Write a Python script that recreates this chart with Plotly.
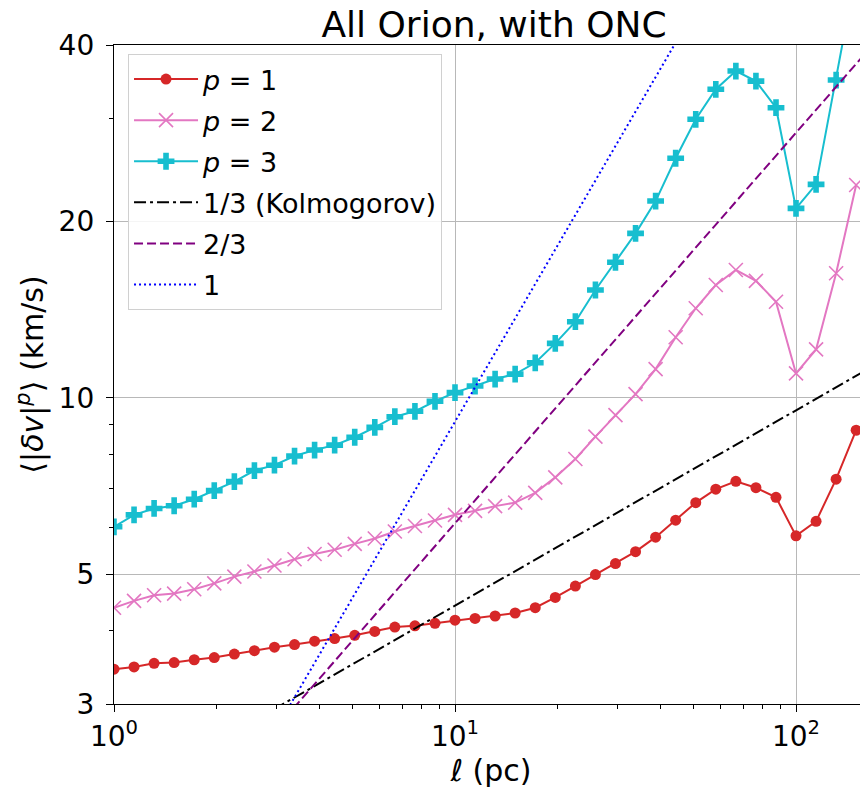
import plotly.graph_objects as go
import math

# ---- data ----
ell_pc = [1.000, 1.145, 1.311, 1.501, 1.719, 1.968, 2.254, 2.581, 2.955, 3.384,
          3.875, 4.437, 5.081, 5.818, 6.662, 7.629, 8.736, 10.00, 11.45, 13.11,
          15.01, 17.19, 19.68, 22.54, 25.81, 29.55, 33.84, 38.75, 44.37, 50.81,
          58.18, 66.62, 76.29, 87.36, 100.0, 114.5, 131.1, 150.1]

p1 = [3.44, 3.47, 3.52, 3.53, 3.57, 3.60, 3.65, 3.70, 3.75, 3.79,
      3.84, 3.88, 3.93, 3.99, 4.06, 4.08, 4.12, 4.17, 4.20, 4.24,
      4.29, 4.38, 4.56, 4.77, 4.99, 5.21, 5.46, 5.78, 6.18, 6.62,
      6.98, 7.20, 7.02, 6.76, 5.81, 6.15, 7.26, 8.80]

p2 = [4.38, 4.50, 4.60, 4.63, 4.71, 4.82, 4.95, 5.05, 5.17, 5.30,
      5.41, 5.50, 5.63, 5.75, 5.91, 6.04, 6.17, 6.31, 6.41, 6.53,
      6.62, 6.88, 7.31, 7.86, 8.58, 9.34, 10.14, 11.19, 12.68, 14.21,
      15.57, 16.52, 15.83, 14.58, 11.00, 12.09, 16.31, 23.07]

p3 = [6.02, 6.31, 6.47, 6.54, 6.71, 6.94, 7.19, 7.51, 7.67, 7.95,
      8.14, 8.30, 8.56, 8.90, 9.28, 9.48, 9.86, 10.20, 10.47, 10.76,
      10.97, 11.47, 12.38, 13.48, 15.27, 17.03, 19.08, 21.66, 25.63, 29.87,
      33.61, 36.11, 34.71, 31.26, 21.05, 23.13, 34.85, 53.5]

# reference power-law lines (end points)
ref_x = [1, 200]
kolmogorov_y = [2.05, 11.99]
two_thirds_y = [1.315, 44.97]
linear_y = [0.91, 182.0]

x_tickvals = [1, 10, 100]
x_ticktext = ["10<sup>0</sup>", "10<sup>1</sup>", "10<sup>2</sup>"]
x_minor = [2, 3, 4, 5, 6, 7, 8, 9, 20, 30, 40, 50, 60, 70, 80, 90, 200]
y_tickvals = [3, 5, 10, 20, 40]
y_ticktext = ["3", "5", "10", "20", "40"]
y_minor = [4, 6, 7, 8, 9, 30]

FONT = "DejaVu Sans"
RED = "#d62728"
PINK = "#e377c2"
CYAN = "#17becf"

fig = go.Figure()
fig.add_trace(go.Scatter(
    x=ell_pc, y=p1, mode="lines+markers", name="<i>p</i> = 1", legendgroup="g1",
    line=dict(color=RED, width=2),
    marker=dict(symbol="circle", size=11, color=RED)))
fig.add_trace(go.Scatter(
    x=ell_pc, y=p2, mode="lines+markers", name="<i>p</i> = 2", legendgroup="g2",
    line=dict(color=PINK, width=2),
    marker=dict(symbol="x-thin", size=14, color=PINK, line=dict(width=1.6, color=PINK))))
fig.add_trace(go.Scatter(
    x=ell_pc, y=p3, mode="lines+markers", name="<i>p</i> = 3", legendgroup="g3",
    line=dict(color=CYAN, width=2),
    marker=dict(symbol="cross", size=14, color=CYAN)))
fig.add_trace(go.Scatter(
    x=ref_x, y=kolmogorov_y, mode="lines", name="1/3 (Kolmogorov)", legendgroup="g4",
    line=dict(color="black", width=2, dash="12px,4px,3px,4px")))
fig.add_trace(go.Scatter(
    x=ref_x, y=two_thirds_y, mode="lines", name="2/3", legendgroup="g5",
    line=dict(color="purple", width=2, dash="9px,4px")))
fig.add_trace(go.Scatter(
    x=ref_x, y=linear_y, mode="lines", name="1", legendgroup="g6",
    line=dict(color="blue", width=2, dash="2px,3px")))

axis_common = dict(
    type="log", showline=True, linecolor="black", linewidth=1.3, mirror=True,
    ticks="outside", ticklen=7, tickwidth=1.3, tickcolor="black",
    showgrid=True, gridcolor="#b8b8b8", gridwidth=1, zeroline=False,
    tickfont=dict(family=FONT, size=28, color="black"),
)

# the page body adds an 8px offset, so the figure is 8px smaller than the window
W, H = 860, 785
fig.update_layout(
    width=W, height=H,
    margin=dict(l=106, r=0, t=37, b=89),
    paper_bgcolor="white", plot_bgcolor="white",
    font=dict(family=FONT, color="black"),
    title=dict(text="All Orion, with ONC", x=0.504, xref="paper", xanchor="center",
               y=1 - 16 / H, yanchor="middle", font=dict(family=FONT, size=36, color="black")),
    xaxis=dict(axis_common, range=[0, 2.2111], tickmode="array",
               tickvals=x_tickvals, ticktext=x_ticktext,
               minor=dict(tickvals=x_minor, ticks="outside", ticklen=4, tickcolor="black",
                          tickwidth=1, showgrid=False),
               title=dict(text="<i>ℓ</i> (pc)", font=dict(family=FONT, size=30, color="black"), standoff=6)),
    yaxis=dict(axis_common, range=[math.log10(3), math.log10(40)], tickmode="array",
               tickvals=y_tickvals, ticktext=y_ticktext, ticklabelstandoff=6,
               minor=dict(tickvals=y_minor, ticks="outside", ticklen=4, tickcolor="black",
                          tickwidth=1, showgrid=False),
               title=dict(text="⟨|<i>δv</i>|<sup><i>p</i></sup>⟩ (km/s)",
                          font=dict(family=FONT, size=30, color="black"), standoff=6)),
    legend=dict(x=0.0186, y=1 - 9 / 659, xanchor="left", yanchor="top",
                bgcolor="rgba(255,255,255,0.85)", bordercolor="#d0d0d0", borderwidth=1,
                font=dict(family=FONT, size=27, color="black"),
                itemwidth=64, tracegroupgap=3, traceorder="grouped"),
    showlegend=True,
)

fig.write_html("out.html")
